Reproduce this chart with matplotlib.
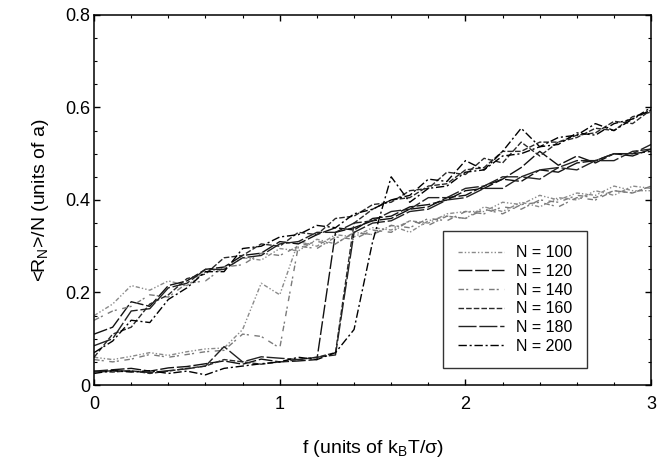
import matplotlib
matplotlib.use("Agg")
import matplotlib.pyplot as plt
from matplotlib.ticker import MultipleLocator

plt.rcParams['font.family'] = ['Liberation Sans', 'DejaVu Sans']
plt.rcParams['mathtext.default'] = 'regular'

# force values (units of kT/sigma)
f = [0.0, 0.1, 0.2, 0.3, 0.4, 0.5, 0.6, 0.7, 0.8, 0.9, 1.0,
     1.1, 1.2, 1.3, 1.4, 1.5, 1.6, 1.7, 1.8, 1.9, 2.0,
     2.1, 2.2, 2.3, 2.4, 2.5, 2.6, 2.7, 2.8, 2.9, 3.0]

# <R_N>/N, branch coming down from high force
hi_100 = [0.150, 0.175, 0.215, 0.205, 0.225, 0.215, 0.245, 0.250, 0.275, 0.270, 0.295,
          0.290, 0.315, 0.305, 0.330, 0.325, 0.345, 0.330, 0.355, 0.365, 0.360,
          0.385, 0.375, 0.395, 0.385, 0.405, 0.400, 0.420, 0.410, 0.430, 0.425]
hi_120 = [0.110, 0.125, 0.180, 0.170, 0.215, 0.225, 0.250, 0.255, 0.280, 0.285, 0.310,
          0.305, 0.325, 0.340, 0.335, 0.360, 0.365, 0.385, 0.390, 0.400, 0.420,
          0.425, 0.445, 0.470, 0.505, 0.475, 0.495, 0.480, 0.500, 0.495, 0.510]
hi_140 = [0.140, 0.160, 0.170, 0.195, 0.190, 0.220, 0.225, 0.255, 0.260, 0.285, 0.280,
          0.300, 0.295, 0.320, 0.315, 0.335, 0.330, 0.355, 0.345, 0.365, 0.360,
          0.380, 0.370, 0.390, 0.395, 0.385, 0.405, 0.400, 0.420, 0.415, 0.430]
hi_160 = [0.060, 0.110, 0.125, 0.175, 0.195, 0.230, 0.240, 0.275, 0.280, 0.305, 0.300,
          0.330, 0.325, 0.360, 0.365, 0.390, 0.395, 0.420, 0.425, 0.460, 0.455,
          0.490, 0.480, 0.525, 0.495, 0.525, 0.535, 0.555, 0.550, 0.580, 0.590]
hi_180 = [0.085, 0.100, 0.160, 0.165, 0.210, 0.220, 0.250, 0.250, 0.275, 0.280, 0.305,
          0.310, 0.330, 0.330, 0.350, 0.355, 0.375, 0.380, 0.405, 0.405, 0.425,
          0.430, 0.450, 0.450, 0.465, 0.470, 0.485, 0.485, 0.500, 0.500, 0.520]
hi_200 = [0.070, 0.095, 0.140, 0.135, 0.185, 0.210, 0.245, 0.245, 0.295, 0.300, 0.320,
          0.325, 0.345, 0.340, 0.370, 0.380, 0.400, 0.410, 0.445, 0.440, 0.485,
          0.465, 0.505, 0.555, 0.515, 0.535, 0.540, 0.565, 0.550, 0.575, 0.600]

# branch going up from low force (collapsed until the jump)
lo_100 = [0.060, 0.055, 0.062, 0.070, 0.064, 0.072, 0.078, 0.080, 0.120, 0.220, 0.195,
          0.310, 0.300, 0.325, 0.320, 0.340, 0.335, 0.355, 0.350, 0.370, 0.375,
          0.375, 0.395, 0.390, 0.410, 0.400, 0.415, 0.410, 0.430, 0.420, 0.420]
lo_120 = [0.030, 0.033, 0.036, 0.030, 0.037, 0.040, 0.046, 0.052, 0.045, 0.056, 0.050,
          0.052, 0.055, 0.330, 0.340, 0.355, 0.360, 0.380, 0.385, 0.405, 0.410,
          0.430, 0.445, 0.440, 0.465, 0.460, 0.480, 0.485, 0.500, 0.500, 0.505]
lo_140 = [0.055, 0.050, 0.056, 0.066, 0.060, 0.066, 0.072, 0.075, 0.110, 0.105, 0.080,
          0.300, 0.310, 0.305, 0.330, 0.325, 0.345, 0.340, 0.360, 0.355, 0.375,
          0.370, 0.385, 0.380, 0.400, 0.395, 0.410, 0.405, 0.420, 0.415, 0.430]
lo_160 = [0.030, 0.028, 0.031, 0.025, 0.030, 0.036, 0.041, 0.055, 0.050, 0.045, 0.050,
          0.055, 0.060, 0.070, 0.350, 0.380, 0.400, 0.405, 0.430, 0.435, 0.465,
          0.470, 0.505, 0.505, 0.525, 0.525, 0.540, 0.545, 0.570, 0.565, 0.595]
lo_180 = [0.028, 0.031, 0.030, 0.027, 0.031, 0.035, 0.041, 0.083, 0.050, 0.061, 0.058,
          0.055, 0.060, 0.065, 0.330, 0.350, 0.355, 0.375, 0.380, 0.400, 0.405,
          0.425, 0.425, 0.450, 0.445, 0.470, 0.465, 0.485, 0.485, 0.505, 0.510]
lo_200 = [0.025, 0.031, 0.028, 0.031, 0.025, 0.030, 0.022, 0.036, 0.041, 0.046, 0.050,
          0.060, 0.055, 0.070, 0.120, 0.310, 0.450, 0.395, 0.425, 0.430, 0.460,
          0.465, 0.495, 0.500, 0.515, 0.520, 0.545, 0.540, 0.565, 0.575, 0.595]

labels = ['N = 100', 'N = 120', 'N = 140', 'N = 160', 'N = 180', 'N = 200']
hi_all = [hi_100, hi_120, hi_140, hi_160, hi_180, hi_200]
lo_all = [lo_100, lo_120, lo_140, lo_160, lo_180, lo_200]
colors = ['#8a8a8a', '#111111', '#7a7a7a', '#2a2a2a', '#222222', '#000000']
styles = [(0, (3, 1.5, 1, 1.5, 1, 1.5)),
          (0, (10, 2)),
          (0, (4, 1.5, 1.5, 4)),
          (0, (4, 1.5)),
          (0, (13, 2)),
          (0, (6, 2, 1.5, 2))]

fig = plt.figure(figsize=(6.72, 4.65), dpi=100)
ax = fig.add_axes([0.140, 0.172, 0.829, 0.796])

for i in range(6):
    ax.plot(f, hi_all[i], color=colors[i], linestyle=styles[i], lw=1.0, label=labels[i])
    ax.plot(f, lo_all[i], color=colors[i], linestyle=styles[i], lw=1.0)

ax.set_xlim(0, 3)
ax.set_ylim(0, 0.8)
ax.set_xticks([0, 1, 2, 3])
ax.set_xticklabels(['0', '1', '2', '3'])
ax.set_yticks([0, 0.2, 0.4, 0.6, 0.8])
ax.set_yticklabels(['0', '0.2', '0.4', '0.6', '0.8'])
ax.xaxis.set_minor_locator(MultipleLocator(0.2))
ax.yaxis.set_minor_locator(MultipleLocator(0.05))
ax.tick_params(which='both', direction='in', top=True, right=True, labelsize=13)
ax.tick_params(which='major', length=4, width=1)
ax.tick_params(which='minor', length=2.5, width=0.8)
ax.tick_params(axis='x', pad=8)
ax.tick_params(axis='y', pad=3)
for s in ax.spines.values():
    s.set_linewidth(1.1)

ax.set_xlabel('f (units of k$_B$T/σ)', fontsize=14, labelpad=18)
ax.set_ylabel('<R$_N$>/N (units of a)', fontsize=14, labelpad=10)

leg = ax.legend(loc='lower left', bbox_to_anchor=(0.627, 0.046),
                fontsize=11.5, handlelength=2.9, frameon=True,
                fancybox=False, edgecolor='black', borderpad=0.9,
                labelspacing=0.23, handletextpad=0.75, borderaxespad=0)
leg.get_frame().set_linewidth(1.0)

fig.savefig('out.png', dpi=100)
